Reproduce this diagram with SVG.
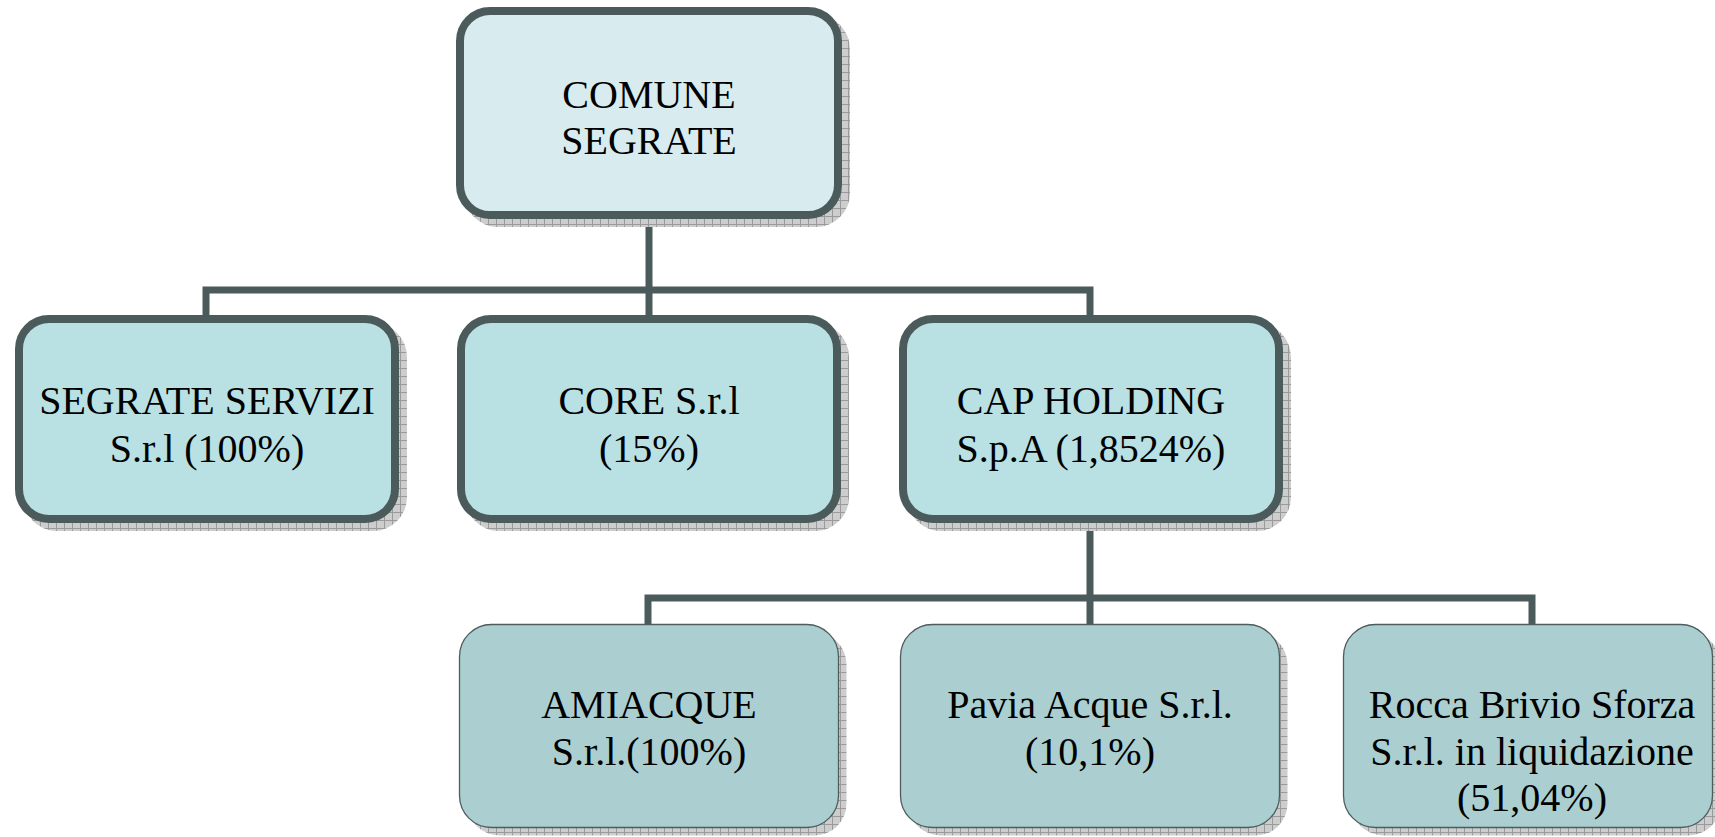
<svg xmlns="http://www.w3.org/2000/svg" width="1715" height="837" viewBox="0 0 1715 837">
<defs>
<pattern id="hatch" width="8" height="8" patternUnits="userSpaceOnUse">
<rect width="8" height="8" fill="#cdcdcd"/>
<path d="M0 0.5H8M0.5 0V8" stroke="#9a9a9a" stroke-width="1"/>
</pattern>
<style>
.shadow{fill:url(#hatch);}
.top{fill:#d8ecef;stroke:#4b5a5b;stroke-width:8;}
.mid{fill:#b9e0e3;stroke:#4b5a5b;stroke-width:8;}
.low{fill:#abcfd1;stroke:#4e5c5d;stroke-width:1.3;}
.conn{fill:none;stroke:#4b5a5b;stroke-width:7;stroke-linejoin:miter;stroke-linecap:butt;}
text{font-family:"Liberation Serif","Times New Roman",serif;font-size:40px;fill:#000;text-anchor:middle;}
</style>
</defs>
<rect width="1715" height="837" fill="#ffffff"/>
<g id="connectors">
<path class="conn" d="M649 219V290M206 319V290H1090V319M649 290V319"/>
<path class="conn" d="M1090 523V598M648 628V598H1532V628M1090 598V628"/>
</g>
<g id="comune">
<rect class="shadow" x="464" y="15" width="386" height="212" rx="34"/>
<rect class="top" x="460" y="11" width="378" height="204" rx="30"/>
<text x="649" y="108">COMUNE</text>
<text x="649" y="154">SEGRATE</text>
</g>
<g id="segrate-servizi">
<rect class="shadow" x="23" y="323" width="384" height="208" rx="34"/>
<rect class="mid" x="19" y="319" width="376" height="200" rx="30"/>
<text x="207" y="414">SEGRATE SERVIZI</text>
<text x="207" y="462">S.r.l (100%)</text>
</g>
<g id="core">
<rect class="shadow" x="465" y="323" width="384" height="208" rx="34"/>
<rect class="mid" x="461" y="319" width="376" height="200" rx="30"/>
<text x="649" y="414">CORE S.r.l</text>
<text x="649" y="462">(15%)</text>
</g>
<g id="cap-holding">
<rect class="shadow" x="907" y="323" width="384" height="208" rx="34"/>
<rect class="mid" x="903" y="319" width="376" height="200" rx="30"/>
<text x="1091" y="414">CAP HOLDING</text>
<text x="1091" y="462">S.p.A (1,8524%)</text>
</g>
<g id="amiacque">
<rect class="shadow" x="467.5" y="632.5" width="379" height="203" rx="32"/>
<rect class="low" x="459.5" y="624.5" width="379" height="203" rx="32"/>
<text x="649" y="718">AMIACQUE</text>
<text x="649" y="765">S.r.l.(100%)</text>
</g>
<g id="pavia-acque">
<rect class="shadow" x="908.5" y="632.5" width="379" height="203" rx="32"/>
<rect class="low" x="900.5" y="624.5" width="379" height="203" rx="32"/>
<text x="1090" y="718">Pavia Acque S.r.l.</text>
<text x="1090" y="765">(10,1%)</text>
</g>
<g id="rocca-brivio">
<rect class="shadow" x="1351.5" y="632.5" width="369" height="203" rx="32"/>
<rect class="low" x="1343.5" y="624.5" width="369" height="203" rx="32"/>
<text x="1532" y="718">Rocca Brivio Sforza</text>
<text x="1532" y="765">S.r.l. in liquidazione</text>
<text x="1532" y="811">(51,04%)</text>
</g>
</svg>
